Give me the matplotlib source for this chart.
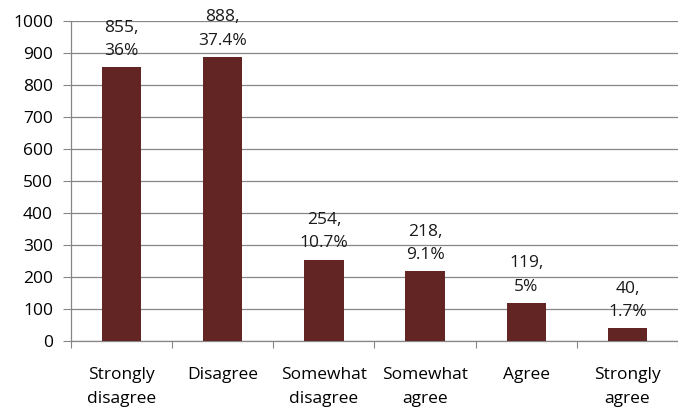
import matplotlib
matplotlib.use("Agg")
import matplotlib.pyplot as plt
import numpy as np

categories = ["Strongly\ndisagree", "Disagree", "Somewhat\ndisagree",
              "Somewhat\nagree", "Agree", "Strongly\nagree"]
counts = [855, 888, 254, 218, 119, 40]
percents = ["36%", "37.4%", "10.7%", "9.1%", "5%", "1.7%"]
yticks = [0, 100, 200, 300, 400, 500, 600, 700, 800, 900, 1000]

plt.rcParams["font.family"] = ["Open Sans", "DejaVu Sans"]

fig = plt.figure(figsize=(6.78, 4.08), dpi=100)
ax = fig.add_axes([71 / 678, 1 - 341 / 408, 1 - 71 / 678, 320 / 408])

x = np.arange(len(categories))
grid_col = "#868686"
fs = 12.5

ax.bar(x, counts, width=0.39, color="#632523", zorder=3)

for xi, c, p in zip(x, counts, percents):
    ax.annotate(f"{c},\n{p}", (xi, c), xytext=(0, 6), textcoords="offset points",
                ha="center", va="bottom", fontsize=fs, linespacing=1.6,
                color="#1a1a1a", zorder=4, annotation_clip=False)

ax.set_ylim(0, 1000)
ax.set_xlim(-0.5, 5.42)
ax.set_yticks(yticks)
ax.tick_params(axis="y", labelsize=fs, length=6, color=grid_col, pad=7)
ax.yaxis.grid(True, color=grid_col, linewidth=0.9, zorder=0)

# category labels between boundary ticks
ax.set_xticks(np.arange(len(categories) + 1) - 0.5)
ax.set_xticklabels([])
ax.set_xticks(x, minor=True)
ax.set_xticklabels(categories, minor=True, fontsize=fs, linespacing=1.6)
ax.tick_params(axis="x", which="major", length=5, color=grid_col)
ax.tick_params(axis="x", which="minor", length=0, pad=19)

for side in ["top", "right"]:
    ax.spines[side].set_visible(False)
for side in ["left", "bottom"]:
    ax.spines[side].set_color(grid_col)
    ax.spines[side].set_linewidth(0.9)

fig.savefig("out.png", dpi=100)
